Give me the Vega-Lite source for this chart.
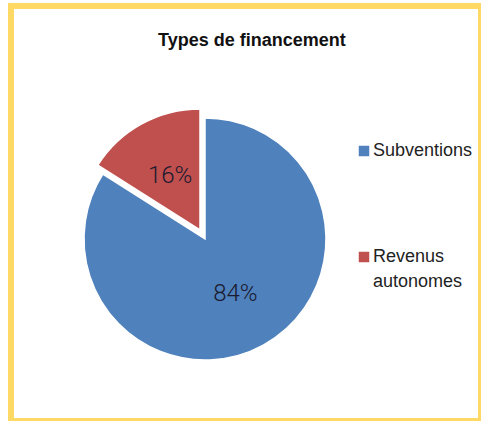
{
  "$schema": "https://vega.github.io/schema/vega-lite/v6.json",
  "width": 481,
  "height": 421,
  "autosize": {"type": "fit", "contains": "padding"},
  "padding": {"left": 11, "top": 6, "right": 0, "bottom": 0},
  "background": "white",
  "view": {"stroke": "#FFD966", "strokeWidth": 6, "fill": "white"},
  "config": {
    "view": {"stroke": "#FFD966", "strokeWidth": 6},
    "style": {"guide-label": {"lineHeight": 25}}
  },
  "title": {
    "text": "Types de financement",
    "font": "Liberation Sans",
    "fontSize": 18,
    "fontWeight": "bold",
    "color": "#111111",
    "frame": "group",
    "anchor": "start",
    "dx": 147,
    "baseline": "alphabetic",
    "offset": -58
  },
  "data": {
    "values": [
      {"type": "Subventions", "share": 0.84},
      {"type": "Revenus autonomes", "share": 0.16}
    ]
  },
  "encoding": {
    "theta": {"field": "share", "type": "quantitative", "stack": true},
    "order": {"field": "share", "type": "quantitative", "sort": "descending"}
  },
  "layer": [
    {
      "mark": {"type": "arc", "x": 194, "y": 233, "outerRadius": 121, "stroke": "white", "strokeWidth": 1.5},
      "encoding": {
        "color": {
          "field": "type",
          "type": "nominal",
          "scale": {"domain": ["Subventions", "Revenus autonomes"], "range": ["#4F81BD", "#C0504D"]},
          "legend": {
            "orient": "none",
            "legendX": 344,
            "legendY": 136,
            "title": null,
            "symbolType": "square",
            "symbolSize": 110,
            "symbolStrokeWidth": 0,
            "labelFont": "Liberation Sans",
            "labelFontSize": 18,
            "labelColor": "#222222",
            "labelOffset": 0,
            "rowPadding": 88,
            "labelExpr": "datum.label == 'Revenus autonomes' ? ['Revenus', 'autonomes'] : datum.label",
            "encode": {"labels": {"update": {"lineHeight": {"value": 25}}}}
          }
        },
        "opacity": {"condition": {"test": "datum.type === 'Subventions'", "value": 1}, "value": 0}
      }
    },
    {
      "mark": {"type": "arc", "x": 194, "y": 233, "outerRadius": 121, "stroke": "white", "strokeWidth": 1.5, "xOffset": -5, "yOffset": -9},
      "encoding": {
        "color": {"field": "type", "type": "nominal"},
        "opacity": {"condition": {"test": "datum.type === 'Revenus autonomes'", "value": 1}, "value": 0}
      }
    },
    {
      "mark": {"type": "text", "x": 194, "y": 233, "radius": 63, "font": "Roboto", "fontWeight": 300, "fontSize": 24, "color": "#1a1a30"},
      "encoding": {
        "text": {"field": "share", "type": "quantitative", "format": ".0%"},
        "opacity": {"condition": {"test": "datum.type === 'Subventions'", "value": 1}, "value": 0}
      }
    },
    {
      "mark": {"type": "text", "x": 194, "y": 233, "radius": 62, "font": "Roboto", "fontWeight": 300, "fontSize": 24, "color": "#1a1a30", "xOffset": -5, "yOffset": -9},
      "encoding": {
        "text": {"field": "share", "type": "quantitative", "format": ".0%"},
        "opacity": {"condition": {"test": "datum.type === 'Revenus autonomes'", "value": 1}, "value": 0}
      }
    }
  ]
}
